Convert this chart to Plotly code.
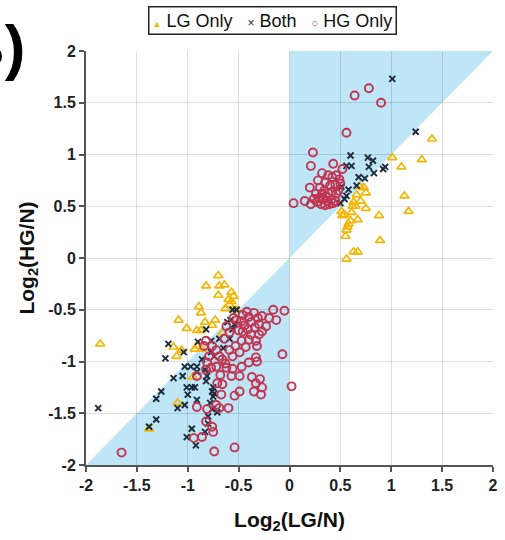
import plotly.graph_objects as go

# Log2 ratios relative to normal tissue for each gene, grouped by where it was called
lg_only_x = [1.40, 1.01, 1.30, 1.10, 1.13, 1.17, 0.89, 0.88, 0.75, 0.75, 0.73, 0.69, 0.66, 0.63,
             0.65, 0.67, 0.60, 0.58, 0.54, 0.51, 0.56, 0.55, 0.63, 0.67, 0.56, 0.52, 0.61, 0.57,
             0.62, 0.70,
             -1.86, -0.70, -0.82, -0.69, -0.64, -0.70, -0.57, -0.55, -0.57, -0.59, -0.63, -0.89,
             -0.87, -0.83, -0.76, -1.09, -1.01, -0.91, -0.87, -1.14, -1.06, -1.11, -0.93, -0.91,
             -0.66, -0.86, -0.95, -1.10, -1.38, -0.52, -0.60, -0.73]
lg_only_y = [1.15, 0.97, 0.95, 0.88, 0.60, 0.45, 0.17, 0.41, 0.48, 0.63, 0.68, 0.69, 0.61, 0.54,
             0.50, 0.37, 0.36, 0.33, 0.42, 0.45, 0.27, 0.21, 0.06, 0.06, -0.01, 0.41, 0.44, 0.30,
             0.50, 0.55,
             -0.83, -0.17, -0.27, -0.27, -0.26, -0.36, -0.33, -0.37, -0.42, -0.45, -0.49, -0.47,
             -0.53, -0.62, -0.65, -0.60, -0.68, -0.70, -0.70, -0.86, -0.89, -0.95, -0.88, -0.85,
             -0.72, -0.88, -1.15, -1.40, -1.65, -0.50, -0.40, -0.60]

both_x = [1.01, 1.24, 0.60, 0.56, 0.61, 0.77, 0.82, 0.78, 0.94, 0.92, 0.83, 0.68, 0.74, 0.66,
          0.51, 0.58, 0.56, 0.54, 0.50,
          -1.88, -1.19, -1.22, -1.04, -0.82, -0.90, -0.56, -0.52, -1.14, -1.03, -0.97, -0.91,
          -1.05, -1.01, -0.96, -0.93, -1.00, -0.91, -1.03, -1.10, -1.26, -1.31, -1.31, -1.38,
          -0.96, -1.01, -0.92, -0.83, -0.80, -0.80, -0.76, -0.71, -0.75, -0.76, -0.74, -0.86,
          -0.83, -0.77, -0.74, -0.77, -0.69, -0.65, -0.59, -0.56, -0.54, -0.61, -0.82, -0.81,
          -0.91, -0.58, -0.75, -0.78]
both_y = [1.73, 1.22, 0.99, 0.89, 0.89, 0.97, 0.94, 0.88, 0.88, 0.86, 0.82, 0.78, 0.77, 0.70,
          0.69, 0.66, 0.60, 0.57, 0.53,
          -1.45, -0.83, -0.97, -0.91, -0.69, -0.81, -0.50, -0.50, -1.16, -1.05, -1.05, -1.05,
          -1.14, -1.25, -1.25, -1.25, -1.32, -1.37, -1.42, -1.45, -1.29, -1.36, -1.56, -1.63,
          -1.65, -1.73, -1.81, -1.68, -1.60, -1.53, -1.46, -1.49, -1.34, -1.29, -1.31, -0.98,
          -1.08, -0.91, -0.95, -0.80, -0.78, -0.87, -0.78, -0.69, -0.64, -0.62, -1.19, -1.14,
          -1.10, -0.60, -1.25, -1.40]

hg_only_x = [0.78, 0.64, 0.90, 0.56, 0.23, 0.21, 0.43, 0.04, 0.15, 0.21, 0.20, 0.32, 0.38, 0.42,
             0.46, 0.49, 0.28, 0.35, 0.40, 0.45, 0.50, 0.52, 0.30, 0.34, 0.38, 0.42, 0.46, 0.26,
             0.29, 0.33, 0.37, 0.41, 0.45, 0.27, 0.31, 0.35, 0.39, 0.43, 0.24, 0.48, 0.36, 0.32,
             -1.65, 0.02, -0.07, -0.05, -0.16, -0.13, -0.20, -0.27, -0.31, -0.35, -0.42, -0.40,
             -0.46, -0.47, -0.34, -0.41, -0.30, -0.33, -0.32, -0.40, -0.47, -0.43, -0.53, -0.49,
             -0.33, -0.32, -0.40, -0.47, -0.56, -0.66, -0.62, -0.72, -0.77, -0.82, -0.81, -0.57,
             -0.49, -0.68, -0.71, -0.66, -0.91, -0.37, -0.29, -0.33, -0.28, -0.35, -0.49, -0.54,
             -0.67, -0.72, -0.69, -0.81, -0.60, -0.76, -0.86, -0.94, -0.75, -0.54, -0.74, -0.82,
             -0.91, -0.84, -0.82, -0.62, -0.59, -0.64, -0.72, -0.59, -0.56, -0.69, -0.76, -0.63,
             -0.79, -0.46, -0.38, -0.27, -0.23, -0.30, -0.27, -0.52, -0.50, -0.44, -0.38, -0.55]
hg_only_y = [1.64, 1.57, 1.50, 1.21, 1.02, 0.89, 0.91, 0.53, 0.55, 0.52, 0.68, 0.82, 0.80, 0.78,
             0.80, 0.76, 0.75, 0.73, 0.70, 0.71, 0.72, 0.86, 0.68, 0.65, 0.63, 0.64, 0.62, 0.62,
             0.58, 0.57, 0.55, 0.56, 0.55, 0.54, 0.52, 0.51, 0.52, 0.53, 0.57, 0.65, 0.60, 0.62,
             -1.88, -1.24, -0.93, -0.51, -0.50, -0.60, -0.58, -0.56, -0.58, -0.53, -0.52, -0.57,
             -0.55, -0.61, -0.67, -0.69, -0.74, -0.80, -0.85, -0.79, -0.80, -0.86, -0.85, -0.91,
             -0.96, -1.00, -1.01, -1.05, -1.07, -0.98, -1.06, -1.05, -1.06, -1.08, -1.01, -1.14,
             -1.14, -1.13, -1.21, -1.22, -1.14, -1.15, -1.17, -1.21, -1.32, -1.29, -1.29, -1.33,
             -1.32, -1.42, -1.45, -1.46, -1.45, -1.63, -1.73, -1.74, -1.68, -1.83, -1.87, -1.58,
             -1.44, -0.85, -0.80, -0.66, -0.72, -0.78, -0.89, -0.89, -0.95, -0.95, -0.85, -1.02,
             -0.95, -0.71, -0.74, -0.71, -0.66, -0.64, -1.25, -0.60, -0.70, -0.65, -0.62, -0.58]

axis_ticks = [-2, -1.5, -1, -0.5, 0, 0.5, 1, 1.5, 2]
tick_text = ["-2", "-1.5", "-1", "-0.5", "0", "0.5", "1", "1.5", "2"]

LG_COLOR = "#F2B705"
BOTH_COLOR = "#1B2B3A"
HG_COLOR = "#C23450"
FONT = "Liberation Sans, Arial"

fig = go.Figure()

fig.add_trace(go.Scatter(
    x=lg_only_x, y=lg_only_y, mode="markers", name="LG Only",
    marker=dict(symbol="triangle-up-open", size=8, color=LG_COLOR,
                line=dict(width=1.7, color=LG_COLOR)),
))
fig.add_trace(go.Scatter(
    x=both_x, y=both_y, mode="markers", name="Both",
    marker=dict(symbol="x-thin", size=6, color=BOTH_COLOR,
                line=dict(width=1.9, color=BOTH_COLOR)),
))
fig.add_trace(go.Scatter(
    x=hg_only_x, y=hg_only_y, mode="markers", name="HG Only",
    marker=dict(symbol="circle-open", size=8, color=HG_COLOR,
                line=dict(width=1.9, color=HG_COLOR)),
))

# Regions where the HG change is larger than the LG change
shade = "#BEE6F7"
fig.add_shape(type="path", path="M -2,-2 L 0,0 L 0,-2 Z", xref="x", yref="y",
              fillcolor=shade, line=dict(width=0), layer="below")
fig.add_shape(type="path", path="M 0,0 L 0,2 L 2,2 Z", xref="x", yref="y",
              fillcolor=shade, line=dict(width=0), layer="below")

# Panel label
fig.add_annotation(text="<b>B)</b>", xref="paper", yref="paper", x=-0.145, y=1.012,
                   xanchor="right", yanchor="middle", showarrow=False,
                   font=dict(size=62, family=FONT, color="#000"))

# Compact boxed legend
legend_text = (
    f"<span style='color:{LG_COLOR};font-size:9px'>▲</span> LG Only&nbsp;&nbsp;&nbsp;"
    f"<span style='color:{BOTH_COLOR};font-size:12px'>×</span> Both&nbsp;&nbsp;&nbsp;"
    f"<span style='color:{HG_COLOR};font-size:11px'><b>○</b></span> HG Only"
)
fig.add_annotation(text=legend_text, xref="paper", yref="paper", x=0.458, y=1.0725,
                   xanchor="center", yanchor="middle", showarrow=False,
                   bordercolor="#222", borderwidth=1.5, borderpad=3, bgcolor="white",
                   font=dict(size=18, family=FONT, color="#111"))

axis_common = dict(
    range=[-2, 2], tickvals=axis_ticks, ticktext=tick_text,
    showgrid=True, gridcolor="rgba(0,0,0,0.13)", gridwidth=1,
    zeroline=False, showline=True, linecolor="#555", linewidth=2,
    ticks="outside", ticklen=5, tickcolor="#555", tickwidth=1.5,
    tickfont=dict(size=16, family=FONT, color="#222", weight="bold"),
    mirror=False,
)

fig.update_layout(
    width=505, height=540,
    margin=dict(l=86, r=7, t=51, b=75),
    paper_bgcolor="white", plot_bgcolor="white",
    xaxis=dict(**axis_common,
               title=dict(text="<b>Log<sub>2</sub>(LG/N)</b>", standoff=19,
                          font=dict(size=21, family=FONT, color="#111"))),
    yaxis=dict(**axis_common,
               title=dict(text="<b>Log<sub>2</sub>(HG/N)</b>", standoff=8,
                          font=dict(size=21, family=FONT, color="#111"))),
    showlegend=False,
)

fig.write_html("out.html")
